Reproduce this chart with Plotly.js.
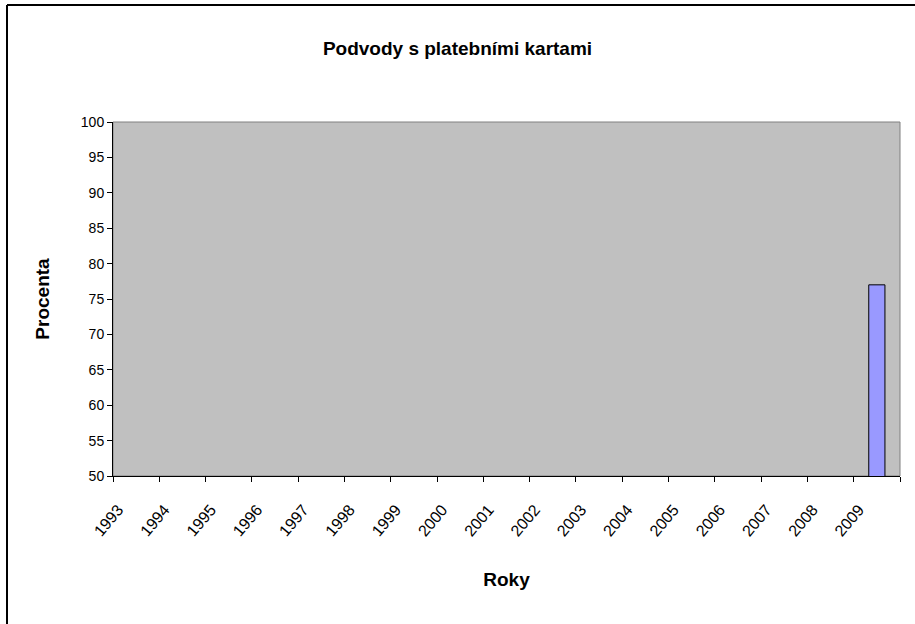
<!DOCTYPE html>
<html>
<head>
<meta charset="utf-8">
<script src="https://cdn.plot.ly/plotly-3.0.1.min.js"></script>
<style>html,body{margin:0;padding:0;background:#fff;}#chart{width:915px;height:624px;}</style>
</head>
<body>
<div id="chart"></div>
<script>
const years = ["1993","1994","1995","1996","1997","1998","1999","2000","2001","2002","2003","2004","2005","2006","2007","2008","2009"];
const percent = [null,null,null,null,null,null,null,null,null,null,null,null,null,null,null,null,77];
const yTicks = [50,55,60,65,70,75,80,85,90,95,100];

const trace = {
  type: 'bar',
  x: years,
  y: percent,
  width: 0.35,
  marker: {color: '#9999FF', line: {color: '#000000', width: 1}},
  hoverinfo: 'x+y'
};

const layout = {
  width: 915, height: 624,
  margin: {l: 113, r: 15, t: 122, b: 148},
  paper_bgcolor: '#ffffff',
  plot_bgcolor: '#C0C0C0',
  showlegend: false,
  font: {family: 'Arial, Liberation Sans, sans-serif', color: '#000'},
  title: {text: 'Podvody s platebními kartami', font: {size: 19, color: '#000', weight: 'bold'}, x: 0.5, xanchor: 'center', y: 1 - 48/624, yanchor: 'middle'},
  xaxis: {
    type: 'category',
    range: [-0.5, 16.5],
    tickson: 'boundaries',
    ticks: 'outside', ticklen: 5, tickcolor: '#000',
    showline: true, linecolor: '#000', linewidth: 1,
    showgrid: false, zeroline: false,
    tickangle: -50,
    ticklabelstandoff: 17,
    ticklabelshift: -18,
    tickfont: {size: 16, color: '#000'},
    title: {text: 'Roky', font: {size: 19, weight: 'bold', color: '#000'}, standoff: 34},
    automargin: false
  },
  yaxis: {
    range: [50, 100],
    tickvals: yTicks,
    ticktext: yTicks.map(String),
    ticks: 'outside', ticklen: 5, tickcolor: '#000',
    showline: true, linecolor: '#000', linewidth: 1,
    showgrid: false, zeroline: false,
    tickfont: {size: 14, color: '#000'},
    title: {text: 'Procenta', font: {size: 19, weight: 'bold', color: '#000'}, standoff: 26},
    automargin: false
  },
  shapes: [
    {type: 'rect', xref: 'paper', yref: 'paper', x0: 0, x1: 1, y0: 0, y1: 1, line: {color: '#808080', width: 1}, layer: 'below'},
    {type: 'line', xref: 'paper', yref: 'paper', x0: (7-113)/787, x1: 1.1, y0: (476-5)/354, y1: (476-5)/354, line: {color: '#000', width: 2}},
    {type: 'line', xref: 'paper', yref: 'paper', x0: (7-113)/787, x1: (7-113)/787, y0: (476-5)/354, y1: -0.5, line: {color: '#000', width: 2}}
  ]
};

Plotly.newPlot('chart', [trace], layout, {displayModeBar: false, staticPlot: true});
</script>
</body>
</html>
